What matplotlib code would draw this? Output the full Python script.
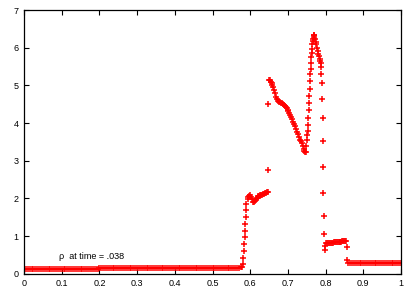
import matplotlib
matplotlib.use('Agg')
import matplotlib.pyplot as plt

# density profile (rho), by segment
# low state on the left
left_x = [0.000, 0.005, 0.010, 0.015, 0.020, 0.025, 0.030, 0.035, 0.040, 0.045,
          0.050, 0.055, 0.060, 0.065, 0.070, 0.075, 0.080, 0.085, 0.090, 0.095,
          0.100, 0.105, 0.110, 0.115, 0.120, 0.125, 0.130, 0.135, 0.140, 0.145,
          0.150, 0.155, 0.160, 0.165, 0.170, 0.175, 0.180, 0.185, 0.190, 0.195,
          0.200, 0.205, 0.210, 0.215, 0.220, 0.225, 0.230, 0.235, 0.240, 0.245,
          0.250, 0.255, 0.260, 0.265, 0.270, 0.275, 0.280, 0.285, 0.290, 0.295,
          0.300, 0.305, 0.310, 0.315, 0.320, 0.325, 0.330, 0.335, 0.340, 0.345,
          0.350, 0.355, 0.360, 0.365, 0.370, 0.375, 0.380, 0.385, 0.390, 0.395,
          0.400, 0.405, 0.410, 0.415, 0.420, 0.425, 0.430, 0.435, 0.440, 0.445,
          0.450, 0.455, 0.460, 0.465, 0.470, 0.475, 0.480, 0.485, 0.490, 0.495,
          0.500, 0.505, 0.510, 0.515, 0.520, 0.525, 0.530, 0.535, 0.540, 0.545,
          0.550, 0.555, 0.560, 0.565, 0.570, 0.575]
left_y = [0.12, 0.12, 0.12, 0.12, 0.12, 0.12, 0.12, 0.12, 0.12, 0.12,
          0.12, 0.12, 0.12, 0.12, 0.12, 0.12, 0.12, 0.12, 0.12, 0.12,
          0.13, 0.13, 0.13, 0.13, 0.13, 0.13, 0.13, 0.13, 0.13, 0.13,
          0.13, 0.13, 0.13, 0.13, 0.13, 0.13, 0.13, 0.13, 0.13, 0.13,
          0.14, 0.14, 0.14, 0.14, 0.14, 0.14, 0.14, 0.14, 0.14, 0.14,
          0.14, 0.14, 0.14, 0.14, 0.14, 0.14, 0.14, 0.14, 0.14, 0.14,
          0.14, 0.14, 0.14, 0.14, 0.14, 0.14, 0.14, 0.14, 0.14, 0.14,
          0.15, 0.15, 0.15, 0.15, 0.15, 0.15, 0.15, 0.15, 0.15, 0.15,
          0.15, 0.15, 0.15, 0.15, 0.15, 0.15, 0.15, 0.15, 0.15, 0.15,
          0.15, 0.15, 0.15, 0.15, 0.15, 0.15, 0.15, 0.15, 0.15, 0.15,
          0.16, 0.16, 0.16, 0.16, 0.16, 0.16, 0.16, 0.16, 0.16, 0.16,
          0.16, 0.16, 0.16, 0.16, 0.16, 0.17]

# first jump and small plateau
jump_x = [0.578, 0.581, 0.582, 0.583, 0.584, 0.585, 0.586, 0.587, 0.588, 0.589,
          0.590, 0.593, 0.595, 0.5970, 0.5995, 0.6020, 0.6045, 0.6070, 0.6095, 0.6120,
          0.6145, 0.6170, 0.6195, 0.6220, 0.6245, 0.6270, 0.6295, 0.6320, 0.6345, 0.6370,
          0.6395, 0.6420, 0.6445, 0.6470]
jump_y = [0.19, 0.26, 0.43, 0.61, 0.79, 0.97, 1.14, 1.32, 1.50, 1.68,
          1.85, 1.99, 2.04, 2.07, 2.08, 2.04, 1.98, 1.91, 1.90, 1.93,
          1.97, 2.00, 2.02, 2.05, 2.07, 2.08, 2.09, 2.10, 2.11, 2.12,
          2.13, 2.14, 2.16, 2.17]

# isolated points at the second jump
gap_x = [0.647, 0.647]
gap_y = [2.76, 4.51]

# high plateau falling into the trough
mid_x = [0.6490, 0.6515, 0.6540, 0.6565, 0.6590, 0.6615, 0.6640, 0.6665, 0.6690, 0.6715,
         0.6740, 0.6765, 0.6790, 0.6815, 0.6840, 0.6865, 0.6890, 0.6915, 0.6940, 0.6965,
         0.6990, 0.7015, 0.7040, 0.7065, 0.7090, 0.7115, 0.7140, 0.7165, 0.7190, 0.7215,
         0.7240, 0.7265, 0.7290, 0.7315, 0.7340, 0.7365, 0.7390, 0.7415, 0.7440, 0.7455]
mid_y = [5.15, 5.13, 5.09, 5.05, 5.01, 4.95, 4.88, 4.80, 4.70, 4.63,
         4.58, 4.56, 4.55, 4.54, 4.52, 4.50, 4.49, 4.46, 4.43, 4.39,
         4.35, 4.31, 4.26, 4.21, 4.16, 4.10, 4.04, 3.97, 3.91, 3.84,
         3.77, 3.70, 3.63, 3.54, 3.51, 3.48, 3.40, 3.32, 3.26, 3.23]

# rising column up to the spike
rise_x = [0.7473, 0.7492, 0.7508, 0.7518, 0.7527, 0.7535, 0.7545, 0.7553, 0.7561, 0.7572,
          0.7580, 0.7588, 0.7598, 0.7606, 0.7614, 0.7625, 0.7633, 0.7641, 0.7652, 0.7660,
          0.7668, 0.7686, 0.7700, 0.7715, 0.7680, 0.7695]
rise_y = [3.24, 3.38, 3.54, 3.67, 3.80, 3.96, 4.13, 4.34, 4.53, 4.73,
          4.91, 5.11, 5.29, 5.44, 5.59, 5.74, 5.87, 5.97, 6.09, 6.18,
          6.24, 6.33, 6.30, 6.22, 6.27, 6.33]

# falling side of the spike
fall_x = [0.7739, 0.7758, 0.7774, 0.7793, 0.7811, 0.7827, 0.7846, 0.7864, 0.7880, 0.7891,
          0.7891, 0.7899, 0.7907, 0.7918, 0.7926, 0.7934, 0.7944, 0.7952, 0.7960, 0.7987,
          0.7987]
fall_y = [6.15, 6.09, 6.00, 5.91, 5.84, 5.77, 5.71, 5.65, 5.59, 5.49,
          5.31, 5.05, 4.65, 4.14, 3.51, 2.83, 2.14, 1.52, 1.06, 0.74,
          0.63]

# post-shock plateau
post_x = [0.8020, 0.8045, 0.8070, 0.8095, 0.8120, 0.8145, 0.8170, 0.8195, 0.8220, 0.8245,
          0.8270, 0.8295, 0.8320, 0.8345, 0.8370, 0.8395, 0.8420, 0.8445, 0.8470, 0.8495,
          0.8520, 0.8545]
post_y = [0.81, 0.82, 0.82, 0.82, 0.82, 0.82, 0.82, 0.82, 0.83, 0.83,
          0.83, 0.83, 0.84, 0.84, 0.84, 0.85, 0.85, 0.86, 0.86, 0.87,
          0.87, 0.88]

# shock front and right state
right_x = [0.857, 0.858, 0.860, 0.865, 0.870, 0.875, 0.880, 0.885, 0.890, 0.895,
           0.900, 0.905, 0.910, 0.915, 0.920, 0.925, 0.930, 0.935, 0.940, 0.945,
           0.950, 0.955, 0.960, 0.965, 0.970, 0.975, 0.980, 0.985, 0.990, 0.995,
           1.000]
right_y = [0.72, 0.37, 0.28, 0.28, 0.28, 0.28, 0.28, 0.28, 0.28, 0.28,
           0.28, 0.28, 0.28, 0.28, 0.28, 0.28, 0.28, 0.28, 0.28, 0.28,
           0.28, 0.28, 0.28, 0.28, 0.28, 0.28, 0.28, 0.28, 0.28, 0.28,
           0.28]

xs = left_x + jump_x + gap_x + mid_x + rise_x + fall_x + post_x + right_x
ys = left_y + jump_y + gap_y + mid_y + rise_y + fall_y + post_y + right_y

x_ticks = [0, 0.1, 0.2, 0.3, 0.4, 0.5, 0.6, 0.7, 0.8, 0.9, 1]
x_labels = ['0', '0.1', '0.2', '0.3', '0.4', '0.5', '0.6', '0.7', '0.8', '0.9', '1']
y_ticks = [0, 1, 2, 3, 4, 5, 6, 7]

plt.rcParams['font.family'] = ['Liberation Sans', 'DejaVu Sans']

fig = plt.figure(figsize=(4.15, 2.91), dpi=100)
ax = fig.add_axes([24 / 415, 17.3 / 291, 377 / 415, 263.7 / 291])

ax.plot(xs, ys, linestyle='none', marker='+', color='#ff0000',
        markersize=4.3, markeredgewidth=1.1)

ax.set_xlim(0, 1)
ax.set_ylim(0, 7)
ax.set_xticks(x_ticks)
ax.set_xticklabels(x_labels)
ax.set_yticks(y_ticks)
ax.tick_params(direction='in', length=3.5, width=0.8, labelsize=6.5,
               top=True, right=True, pad=4)
for s in ax.spines.values():
    s.set_linewidth(0.9)

ax.text(0.093, 0.45, '\u03c1  at time = .038', fontsize=6.5, va='center')

fig.savefig('out.png', dpi=100)
